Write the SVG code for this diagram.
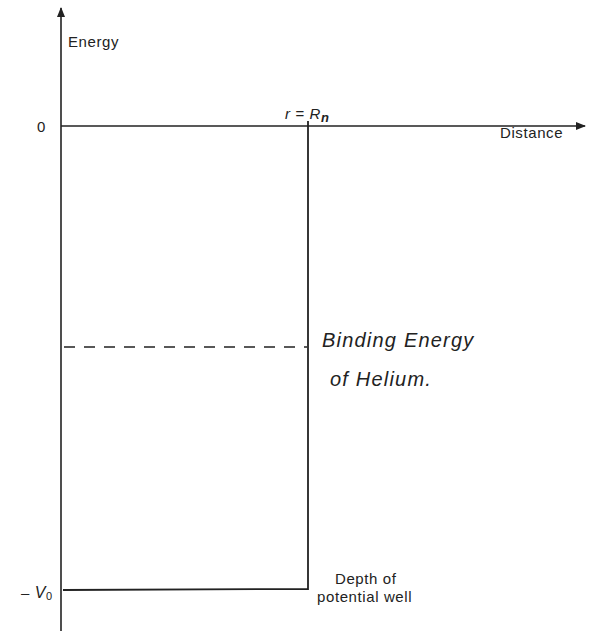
<svg xmlns="http://www.w3.org/2000/svg" width="591" height="631" viewBox="0 0 591 631">
<style>
.ax{stroke:#222;stroke-width:1.6;fill:none}
.ln{stroke:#222;stroke-width:1.8;fill:none}
.ds{stroke:#222;stroke-width:1.5;fill:none;stroke-dasharray:11,9}
text{font-family:"Liberation Sans",Arial,sans-serif;fill:#222}
.lab{font-size:15px;letter-spacing:0.6px}
.hw{font-size:20px;font-style:italic;letter-spacing:1.2px}
</style>
<defs>
<marker id="ah" markerWidth="10" markerHeight="8" refX="9" refY="4" orient="auto" markerUnits="userSpaceOnUse">
<path d="M0,0 L10,4 L0,8 Z" fill="#222"/>
</marker>
</defs>
<rect width="591" height="631" fill="#fff"/>
<g id="connectors">
<line class="ax" x1="61" y1="631" x2="61" y2="8" marker-end="url(#ah)"/>
<line class="ax" x1="61" y1="126" x2="585" y2="126" marker-end="url(#ah)"/>
<path class="ln" d="M308,121 L308,589 L63,590"/>
<line class="ds" x1="64" y1="347" x2="307" y2="347"/>
</g>
<g id="labels">
<text class="lab" x="68" y="47">Energy</text>
<text class="lab" x="37" y="132">0</text>
<text class="lab" x="285" y="119" font-style="italic">r = R<tspan font-size="13" dy="3" font-weight="bold">n</tspan></text>
<text class="lab" x="500" y="138">Distance</text>
<text class="hw" x="322" y="347">Binding Energy</text>
<text class="hw" x="330" y="386">of Helium.</text>
<text class="lab" x="335" y="584">Depth of</text>
<text class="lab" x="317" y="602">potential well</text>
<text class="lab" x="21" y="598">– <tspan font-style="italic" font-size="16">V</tspan><tspan font-size="11" dy="2">0</tspan></text>
</g>
</svg>
